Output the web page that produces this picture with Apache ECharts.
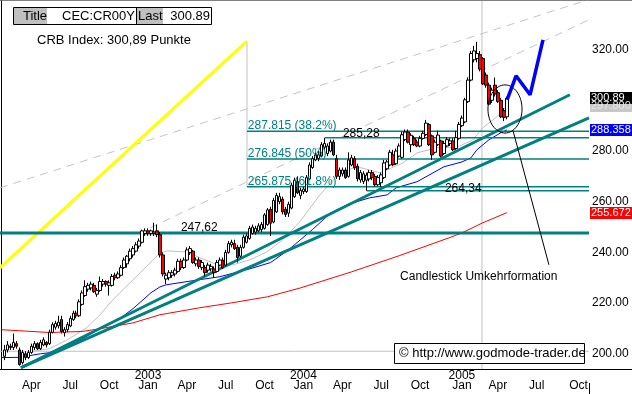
<!DOCTYPE html>
<html><head><meta charset="utf-8">
<script src="https://cdn.jsdelivr.net/npm/echarts@6/dist/echarts.min.js"></script>
<style>html,body{margin:0;padding:0;background:#fff;}#c{width:632px;height:394px;}</style>
</head><body><div id="c"></div>
<script>
// ---------- DATA ----------
const firstWeek = '2002-01-25';
const weekCount = 197;
const firstCandleIndex = 1;
const monthNames = ['Jan','Feb','Mar','Apr','May','Jun','Jul','Aug','Sep','Oct','Nov','Dec'];
// weekly candles [open, close, low, high]
const candles = [
[199,201.5,197.5,203.5],[201.5,203.5,200.5,205],[203,202.5,201.5,204],[202.5,204.5,201.5,208],[204,203,202,205],
[201.5,195.8,195.3,202.5],[196.5,200.5,195.8,201.5],[200,198.5,197.5,201],[198.5,200.5,198,201.5],[200.5,203,200,204],
[202.5,204,201.5,205],[204,202,201.5,204.5],[202,204.5,201.5,205.5],[203.5,205.5,203,206.5],[204.5,203.5,202.5,205],
[204,208.5,203.5,209.5],[208.5,211.5,208,212.5],[210.5,212,209.5,213],[211,212.5,210,215],[213.5,208.8,208,215],
[208.3,209.5,206.8,210.5],[209.5,211.5,208.5,212.5],[211,214,210.5,215],[213.5,216,213,217],[216,215,214,217],
[215,220.5,214.5,221.5],[219.5,224,219,225],[223,226.5,222.5,229],[225.5,227,224.5,228],[226,227.5,225,228.5],
[227,224.5,224,228],[223.5,225,222.5,226],[225,228.5,224.5,230.5],[227.5,228.5,226.5,229.5],[228.5,227.5,226.5,229],
[227,228,223,229],[227,230.5,226.5,231.5],[231,230,229,232],[230,231.5,229.5,232.5],[231,234,230.5,235],
[234,237,233.5,238],[235.5,238.5,234,239],[237.5,240.5,236.5,241.5],[239,241.5,238,242.5],[240.5,243,240,244],
[242.5,244.5,241.5,245.5],[244,248.5,243.5,249],[247.5,248.5,246.5,249.5],[248.5,247.5,246.5,249.5],[247.5,248.5,246.5,249],
[247.5,248,246.5,251.7],[248.5,247,246,251],[247,239,238,248],[239,231.5,230.5,240],[229.5,231,227.5,232],
[230,232,229,233],[231,232,230,233],[231.5,233,230.5,234],[232.5,236.5,232,237.5],[236.5,234,233,237.5],
[234,237,233.5,238],[237,241,236.5,242],[240,241.5,239,242.5],[240.5,236,235.5,241],[235.5,237,234.5,238],
[237,234.5,233.5,238],[234,236,233,237],[234,232,230.5,235],[233,235,232,236],[233.5,234.5,232.5,235.5],
[233.5,232,230,234.5],[232.5,236,232,237],[235,237,234.5,238],[237,234,233.5,238],[235,240,234.5,241],
[240,243.5,239.5,244.5],[243,244,242,245],[243.5,241.5,241,245],[242,238,236,243],[238.5,242,238,243],
[242,246,241.5,247],[244,246.5,243.5,247.5],[245.5,249.5,245,250.5],[247.5,250,247,251],[248,249.5,247,250.5],
[248.5,250.5,248,251.5],[249,251,248,252],[249.5,254.8,249,255.5],[251,256.8,250.5,257.5],[257,251.5,246.5,258],
[252,260.5,251.5,261.5],[256,262.5,255.5,263.5],[260,262,259,263.5],[261,256,255,262],[257,255,254,258],
[255.5,259,254,260],[257.5,266.5,257,267.5],[262,268.5,261.5,269.5],[268,263.5,263,270],[262.5,264.5,261,265.5],
[264,265,263,266],[264,269.5,263.5,270.5],[269,274.5,268.5,275.5],[273.5,277,273,278],[276.5,278.5,276,279.5],
[277,278.5,276,280],[278,282.5,277.5,283.5],[281.5,283,280.5,285.28],[279,282,278,283],[280,283.5,279.5,284.5],
[283.5,278.5,278,284.5],[277,270,269,278.5],[270,272.5,268.6,273.5],[271,272.5,270,273.5],[272.5,269.5,269,273.5],
[270,276.5,269.5,279.5],[274.5,277.3,274,278.5],[277,273.4,272.5,278],[274,269,268,275],[268.6,271.5,267.5,272.5],
[268,271,267,272],[268.5,270.5,264.34,271.5],[269,271.5,268,272.5],[271.5,269.5,268.5,272.5],[270,266.7,266,271],
[266.7,269.5,266,270.5],[267.5,270.6,265.8,271.5],[269.5,275.3,269,276.5],[273,275.7,272.5,276.5],[274.5,279.5,274,280.5],
[278.5,274.6,274,280.5],[275,280,274.5,281],[278,282,277.5,283],[277.5,286.4,277,287.5],[284.5,287.5,284,288.5],
[287.5,283.5,283,288.5],[282.5,286.2,279.5,287],[285,282.5,282,286],[283.5,282,281.5,284.5],[282,285,281.5,286],
[285,287,284.5,288],[286.5,291,286,292.3],[290.5,282.5,282,291],[286,278.5,276.5,286.5],[279.5,283.5,279,284.5],
[282.5,286.3,282,288],[284,278,277.5,284.5],[279,283,278.5,284],[282,284.5,281.5,285.5],[283,284,282,285],
[284,280.5,280,285],[281,285.3,280.5,288],[285,290.5,284.5,291.5],[290,293,289.5,294],[291.5,300.2,291,301],
[299.5,308,299,309],[308,318.5,307.5,319.5],[316,319.5,315,321.5],[316.5,318.5,315,323.1],[318,312.3,311.5,319.5],
[316.5,306.5,306,317],[310,306,305,311],[306,298.5,298,307],[300,304,299,305],[306,302.5,301.5,309],
[303,299.5,299,304],[300,293.5,293,301],[296,293.3,291.8,297],[293.5,300.89,292.5,301.5]
];
// moving averages [weekIndex, value]
const grayMA = [[10,201],[16,202],[22,205.5],[28.5,210.3],[33,215.4],[36.3,220.1],[39.6,224.1],[44,229.2],[49.7,235.9],[53,239.8],[55.4,240.6],[62,240.2],[66.4,237.9],[73.1,234.7],[77.4,235.1],[83.1,237.1],[88.8,240.2],[94.1,245],[99.8,252.1],[106.5,262.7],[113.2,271.5],[118.9,273.8],[126.6,271.4],[134.3,275.3],[139,279.3],[145.7,281.3],[152.3,281.5],[157.7,284.4],[161,289.2],[165.7,293.5],[169,297.8]];
const blueMA = [[0,198.5],[6,198.6],[13,200],[16,200.4],[22,203.2],[27,205.9],[33,209.9],[39,213.4],[44,217.8],[50,224.1],[53,226.4],[55,227.2],[66,229.2],[73,230.4],[83,233.5],[90,236],[96,241],[104,249],[110,255.5],[116,259],[123,261.5],[129,262.7],[132,265.5],[139,267.9],[148,273.8],[154,275.7],[157,277.3],[159,280.5],[163,284.4],[167,287.2],[169,288.358]];
const redMA = [[0,209.5],[6,209.1],[16,208.4],[27,208.8],[33,209.9],[44,212.2],[53,215.4],[66,218.1],[77,220.1],[89,222.5],[100,226],[117,232.3],[133,238.7],[150,245.9],[154,247.7],[161,251.7],[169,255.672]];
// drawings [weekIndex, value]
const trendUpper = [[6.5,194.5],[190.1,302.2]];
const trendLower = [[6.5,194.5],[196.5,293.1]];
const level24762 = [[-0.5,247.62],[196.5,247.62]];
const level28528 = [[108.2,285.28],[196.5,285.28]];
const level26434 = [[122.2,264.34],[196.5,264.34]];
const fibLevels = [287.815, 276.845, 265.875];
const fibStart = 82.1;
const fibTop = 323.33;
const yellowLine = [[-0.5,233.9],[82.1,323.33]];
const dashedLine1 = [[-0.5,265.5],[196.5,339.8]];
const dashedLine2 = [[49.7,249.7],[196.5,331.8]];
const markerVertical = [[160.7,194],[160.7,339.2]];
const level200 = [[-0.5,201],[196.5,201]];
const forecastPath = [[169.1,300.2],[172.1,309.7],[176.8,302.2],[181.1,323.9]];
const pointerLine = [[171.1,288],[183.1,235.1]];
const reversalEllipse = [[168.4,296.6,5.7,9.5]];
const textNotes = [
  {text:'247,62', at:[60,249.6], color:'#000'},
  {text:'285,28', at:[114.2,286.8], color:'#000'},
  {text:'264,34', at:[148.3,265.1], color:'#000'},
  {text:'287.815 (38.2%)', at:[82.4,289.9], color:'#008080'},
  {text:'276.845 (50%)', at:[82.4,278.9], color:'#008080'},
  {text:'265.875 (61.8%)', at:[82.4,267.9], color:'#008080'},
  {text:'Candlestick Umkehrformation', at:[133.3,230.4], color:'#000'}
];
const valueTags = [
  {value:297.8, text:'297.800', bg:'#c8c8c8', fg:'#e8e8e8'},
  {value:300.89, text:'300.89', bg:'#000000', fg:'#ffffff'},
  {value:288.358, text:'288.358', bg:'#0000ff', fg:'#ffffff'},
  {value:255.672, text:'255.672', bg:'#ff0000', fg:'#ffffff'}
];
const headerTitle = 'Title', headerSymbol = 'CEC:CR00Y', headerLastLabel = 'Last', headerLast = '300.89';
const subtitle = 'CRB Index: 300,89 Punkte';
const copyright = '\u00a9 http://www.godmode-trader.de';

// ---------- BUILD ----------
const FONT = '"Liberation Sans", Arial, sans-serif';
const categories = [];
const t0 = Date.parse(firstWeek + 'T00:00:00Z');
for (let k = 0; k < weekCount; k++) categories.push(new Date(t0 + k * 7 * 86400000).toISOString().slice(0, 10));
const candleData = categories.map((c, k) => {
  const j = k - firstCandleIndex;
  return (j >= 0 && j < candles.length) ? candles[j] : '-';
});
function isQuarterStart(val) {
  const d = new Date(val + 'T00:00:00Z');
  return [0, 3, 6, 9].indexOf(d.getUTCMonth()) >= 0 && d.getUTCDate() <= 7;
}

function seg(data, color, width, opts) {
  return Object.assign({
    type: 'line', xAxisIndex: 1, yAxisIndex: 0, data: data, symbol: 'none', silent: true,
    animation: false, clip: true, z: 3,
    lineStyle: { color: color, width: width, type: 'solid' }
  }, opts || {});
}
const series = [];
series.push(seg(dashedLine1, '#c4c4c4', 1, { lineStyle: { color: '#c4c4c4', width: 1, type: [8, 6] }, z: 1 }));
series.push(seg(dashedLine2, '#c4c4c4', 1, { lineStyle: { color: '#c4c4c4', width: 1, type: [8, 6] }, z: 1 }));
series.push(seg(level200, '#c0c0c0', 1, { z: 1 }));
series.push(seg(markerVertical, '#c0c0c0', 1, { z: 1 }));
series.push(seg([[fibStart, fibLevels[2]], [fibStart, fibTop]], '#c0c0c0', 1, { z: 1 }));
series.push(seg(yellowLine, '#ffff00', 3, { z: 2 }));
series.push(seg(grayMA, '#c0c0c0', 1, { z: 2 }));
series.push(seg(redMA, '#ff0000', 1, { z: 2 }));
series.push(seg(blueMA, '#0000ff', 1, { z: 2 }));
fibLevels.forEach(v => series.push(seg([[fibStart, v], [196.5, v]], '#008080', 1.5, { z: 3 })));
series.push(seg(level28528, '#008080', 1.5, { z: 3 }));
series.push(seg(level26434, '#008080', 1.5, { z: 3 }));
series.push(seg(level24762, '#008080', 3, { z: 3 }));
series.push(seg(trendUpper, '#008080', 3, { z: 3 }));
series.push(seg(trendLower, '#008080', 3, { z: 3 }));
series.push(seg(forecastPath, '#0000ff', 3.5, { z: 6 }));
series.push(seg(pointerLine, '#000000', 1, { z: 6 }));
series.push({
  type: 'custom', xAxisIndex: 1, yAxisIndex: 0, data: reversalEllipse, silent: true, z: 6, animation: false,
  renderItem: function (params, api) {
    const c = api.coord([api.value(0), api.value(1)]);
    const s = api.size([api.value(2), api.value(3)]);
    return { type: 'ellipse', shape: { cx: c[0], cy: c[1], rx: s[0], ry: s[1] },
      style: { fill: null, stroke: '#000', lineWidth: 1 } };
  }
});
series.push({
  type: 'candlestick', xAxisIndex: 0, yAxisIndex: 0, data: candleData, barWidth: 3, z: 5, silent: true,
  animation: false,
  itemStyle: { color: '#ffffff', color0: '#ff0000', borderColor: '#000000', borderColor0: '#000000', borderWidth: 1 }
});

const option = {
  backgroundColor: '#ffffff',
  animation: false,
  grid: { left: 0, right: 43, top: 1, bottom: 25, containLabel: false },
  xAxis: [{
    type: 'category', data: categories, boundaryGap: true,
    axisLine: { show: true, lineStyle: { color: '#000', width: 1 } },
    axisTick: { show: false }, splitLine: { show: false },
    axisLabel: {
      interval: function (idx, val) { return isQuarterStart(val); },
      formatter: function (val) {
        const d = new Date(val + 'T00:00:00Z');
        return monthNames[d.getUTCMonth()];
      },
      color: '#000', fontSize: 12, fontFamily: FONT, lineHeight: 12, margin: 11
    }
  }, {
    type: 'value', min: -0.5, max: weekCount - 0.5, show: false
  }, {
    type: 'category', data: categories, boundaryGap: true, position: 'bottom', offset: 0,
    axisLine: { show: false }, axisTick: { show: false }, splitLine: { show: false },
    axisLabel: {
      interval: function (idx, val) { return isQuarterStart(val) && val.slice(5, 7) === '01'; },
      formatter: function (val) { return val.slice(0, 4); },
      color: '#000', fontSize: 12, fontFamily: FONT, margin: 1
    }
  }],
  yAxis: [{
    type: 'value', position: 'right', min: 194, max: 339.2, interval: 2,
    axisLine: { show: true, lineStyle: { color: '#000', width: 1 } },
    axisTick: { show: false }, splitLine: { show: false },
    axisLabel: {
      margin: 3, color: '#000', fontSize: 12, fontFamily: FONT,
      formatter: function (v) { return Math.abs(v / 20 - Math.round(v / 20)) < 1e-6 ? v.toFixed(2) : ''; }
    }
  }],
  series: series
};
const chart = echarts.init(document.getElementById('c'), null, { renderer: 'canvas' });
chart.setOption(option);

const toPx = p => chart.convertToPixel({ xAxisIndex: 1, yAxisIndex: 0 }, p);
const g = [];
g.push({ type: 'line', shape: { x1: 0, y1: 0.5, x2: 632, y2: 0.5 }, style: { stroke: '#808080', lineWidth: 1 } });
g.push({ type: 'line', shape: { x1: 0, y1: 369.5, x2: 632, y2: 369.5 }, style: { stroke: '#000', lineWidth: 1 } });
textNotes.forEach(n => {
  const p = toPx(n.at);
  g.push({ type: 'text', x: p[0], y: p[1], z: 20,
    style: { text: n.text, fill: n.color, font: '12px ' + FONT, textAlign: 'left', textVerticalAlign: 'middle' } });
});
valueTags.forEach(t => {
  const y = toPx([0, t.value])[1];
  g.push({ type: 'rect', shape: { x: 590, y: Math.round(y) - 6, width: 42, height: 12 }, z: 30,
    style: { fill: t.bg } });
  g.push({ type: 'text', x: 591, y: Math.round(y), z: 31,
    style: { text: t.text, fill: t.fg, font: '11px ' + FONT, textVerticalAlign: 'middle' } });
});
g.push({ type: 'rect', shape: { x: 14, y: 8, width: 33, height: 16 }, style: { fill: '#c0c0c0' }, z: 40 });
g.push({ type: 'rect', shape: { x: 137, y: 8, width: 26, height: 16 }, style: { fill: '#c0c0c0' }, z: 40 });
g.push({ type: 'rect', shape: { x: 13.5, y: 7.5, width: 198, height: 17 }, style: { fill: null, stroke: '#000', lineWidth: 1 }, z: 41 });
g.push({ type: 'line', shape: { x1: 136.5, y1: 7.5, x2: 136.5, y2: 24.5 }, style: { stroke: '#000', lineWidth: 1 }, z: 41 });
g.push({ type: 'text', x: 23, y: 16.5, z: 42, style: { text: headerTitle, fill: '#000', font: '13px ' + FONT, textVerticalAlign: 'middle' } });
g.push({ type: 'text', x: 135, y: 16.5, z: 42, style: { text: headerSymbol, fill: '#000', font: '13px ' + FONT, textAlign: 'right', textVerticalAlign: 'middle' } });
g.push({ type: 'text', x: 138, y: 16.5, z: 42, style: { text: headerLastLabel, fill: '#000', font: '13px ' + FONT, textVerticalAlign: 'middle' } });
g.push({ type: 'text', x: 210, y: 16.5, z: 42, style: { text: headerLast, fill: '#000', font: '13px ' + FONT, textAlign: 'right', textVerticalAlign: 'middle' } });
g.push({ type: 'text', x: 37, y: 40, z: 42, style: { text: subtitle, fill: '#000', font: '13px ' + FONT, textVerticalAlign: 'middle' } });
g.push({ type: 'rect', shape: { x: 394.5, y: 343.5, width: 190, height: 20 }, style: { fill: '#fff', stroke: '#000', lineWidth: 1 }, z: 40 });
g.push({ type: 'text', x: 399, y: 353.5, z: 42, style: { text: copyright, fill: '#000', font: '13px ' + FONT, textVerticalAlign: 'middle' } });
g.push({ type: 'line', shape: { x1: 589.5, y1: 383, x2: 589.5, y2: 394 }, style: { stroke: '#000', lineWidth: 1 } });
chart.setOption({ graphic: g });
</script>
</body></html>
